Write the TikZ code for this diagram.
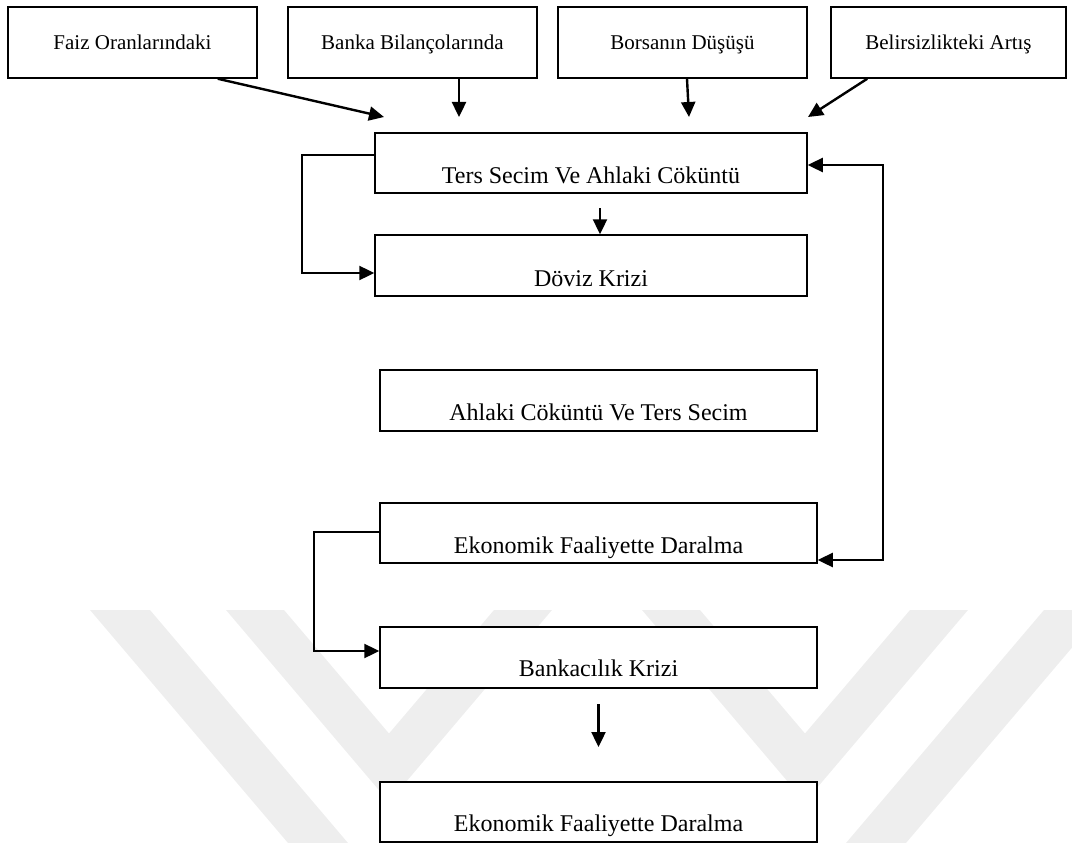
\documentclass[tikz,border=0pt]{standalone}
\usepackage{fontspec}
\setmainfont{Liberation Serif}
\usetikzlibrary{arrows.meta,calc}
\definecolor{wm}{RGB}{238,238,238}
\begin{document}
\begin{tikzpicture}[x=1pt,y=-1pt,
  box/.style={draw,line width=1.5pt,fill=white,inner sep=0pt},
  txt/.style={anchor=base,inner sep=0pt,font=\fontsize{21}{25}\selectfont},
  btxt/.style={anchor=base,inner sep=0pt,font=\fontsize{24}{28}\selectfont},
  arr/.style={line width=2.4pt,-{Triangle[length=15pt,width=14pt]}},
  link/.style={line width=2pt}]
\useasboundingbox (0,0) rectangle (1072,843);
% watermark
\fill[wm] (90,610) -- (150,610) -- (348,843) -- (288,843) -- cycle;
\fill[wm] (226,610) -- (284,610) -- (389,733.5) -- (494,610) -- (552,610) -- (389,802) -- cycle;
\fill[wm] (1104,610) -- (1044,610) -- (846,843) -- (906,843) -- cycle;
\fill[wm] (968,610) -- (910,610) -- (805,733.5) -- (700,610) -- (642,610) -- (805,802) -- cycle;
% top boxes
\node[box,minimum width=249pt,minimum height=71pt] (faiz) at (132.5,42.5) {};
\node[box,minimum width=249pt,minimum height=71pt] (banka) at (412.5,42.5) {};
\node[box,minimum width=249pt,minimum height=71pt] (borsa) at (682.5,42.5) {};
\node[box,minimum width=235pt,minimum height=71pt] (belir) at (948.5,42.5) {};
\node[txt] (tfaiz) at (132.5,50) {Faiz Oranlarındaki};
\node[txt] (tbanka) at (412.5,50) {Banka Bilançolarında};
\node[txt] (tborsa) at (682.5,50) {Borsanın Düşüşü};
\node[txt] (tbelir) at (948.5,50) {Belirsizlikteki Artış};
% middle boxes
\node[box,minimum width=432pt,minimum height=60pt] (ters) at (591,163) {};
\node[btxt] (tters) at (591,183) {Ters Secim Ve Ahlaki Cöküntü};
\node[box,minimum width=432pt,minimum height=61pt] (doviz) at (591,265.5) {};
\node[btxt] (tdoviz) at (591,286) {Döviz Krizi};
\node[box,minimum width=437pt,minimum height=61pt] (ahlaki) at (598.5,400.5) {};
\node[btxt] (tahlaki) at (598.5,420) {Ahlaki Cöküntü Ve Ters Secim};
\node[box,minimum width=437pt,minimum height=60pt] (eko1) at (598.5,533) {};
\node[btxt] (teko1) at (598.5,553) {Ekonomik Faaliyette Daralma};
\node[box,minimum width=437pt,minimum height=61pt] (bank) at (598.5,657.5) {};
\node[btxt] (tbank) at (598.5,676) {Bankacılık Krizi};
\node[box,minimum width=437pt,minimum height=60pt] (eko2) at (598.5,812) {};
\node[btxt] (teko2) at (598.5,831) {Ekonomik Faaliyette Daralma};
% free arrow ends
\coordinate (e1) at (384,117);
\coordinate (e2) at (459,117);
\coordinate (e3) at (689,117);
\coordinate (e4) at (808,117);
\coordinate (s5) at (600,208);
\coordinate (s6) at (598.5,704);
\coordinate (e6) at (598.5,747);
% connectors
\draw[arr] ([xshift=-40pt]faiz.south east) -- (e1);
\draw[arr] ([xshift=46.5pt]banka.south) -- (e2);
\draw[arr] ([xshift=4.5pt]borsa.south) -- (e3);
\draw[arr] ([xshift=37pt]belir.south west) -- (e4);
\draw[arr] (s5) -- (s5 |- doviz.north);
\draw[arr] ([yshift=8pt]ters.west) -- ++(-72,0) |- ([yshift=-7.5pt]doviz.west);
\draw[line width=2.4pt,{Triangle[length=15pt,width=14pt]}-{Triangle[length=15pt,width=14pt]}]
  ([yshift=-2pt]ters.east) -- ++(75,0) |- ([yshift=-27pt]eko1.east);
\draw[arr] ([yshift=1pt]eko1.west) -- ++(-65,0) |- ([yshift=6.5pt]bank.west);
\draw[arr] (s6) -- (e6);
\end{tikzpicture}
\end{document}
